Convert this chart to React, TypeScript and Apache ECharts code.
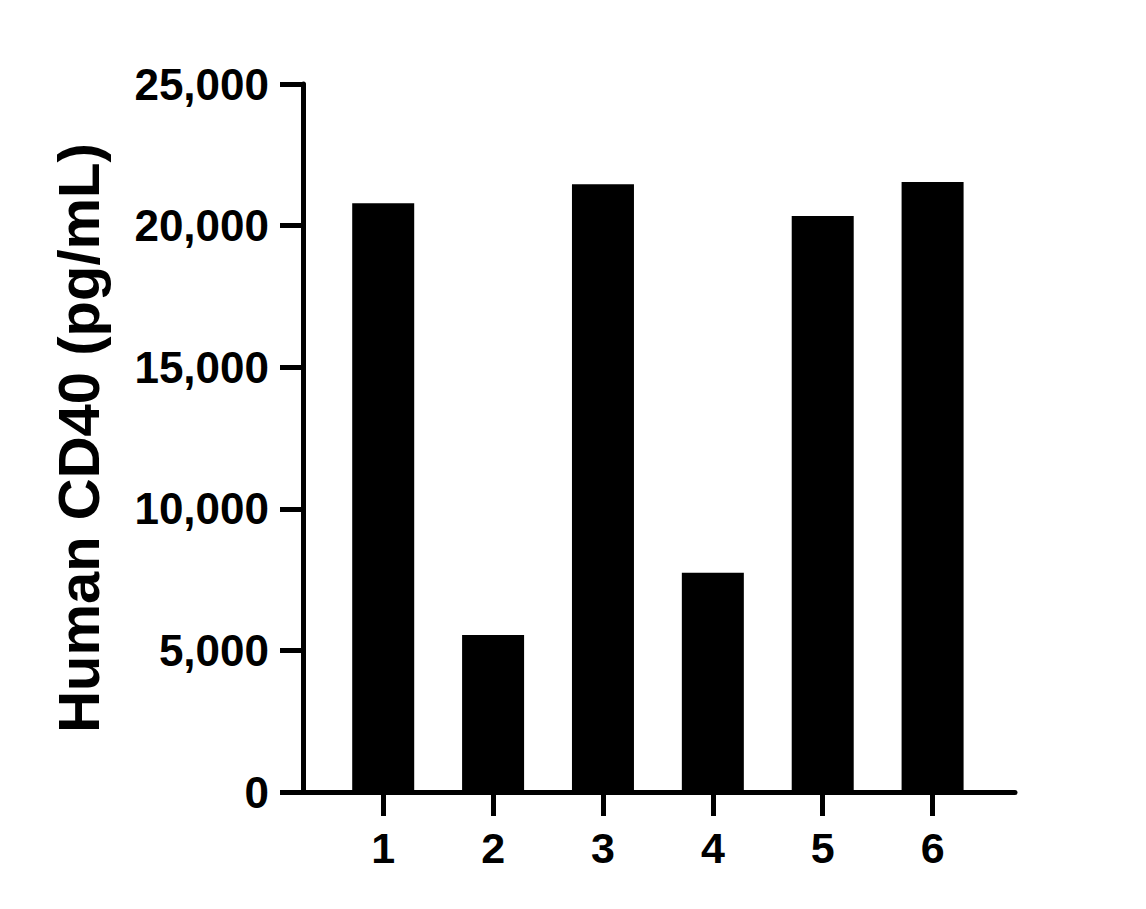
import React, { useEffect, useRef } from 'react';
import * as echarts from 'echarts';

// sample numbers on the x axis
const samples = [1, 2, 3, 4, 5, 6];
// Human CD40 concentration per sample (pg/mL)
const cd40Values = [20790, 5540, 21460, 7740, 20340, 21540];
const yTicks = [0, 5000, 10000, 15000, 20000, 25000];

const FONT = '"Liberation Sans", Arial, Helvetica, sans-serif';

const App: React.FC = () => {
  const chartRef = useRef<HTMLDivElement>(null);

  useEffect(() => {
    document.body.style.margin = '0';
    if (!chartRef.current) return;
    const chart = echarts.init(chartRef.current, undefined, { renderer: 'svg' });

    const axisLine = { show: true, lineStyle: { color: '#000', width: 5 } };
    const axisTick = { show: true, inside: false, length: 23, lineStyle: { color: '#000', width: 5 } };
    const labelStyle = { color: '#000', fontSize: 43, fontWeight: 'bold' as const, fontFamily: FONT };

    chart.setOption({
      animation: false,
      backgroundColor: '#fff',
      grid: { left: 303, right: 131, top: 84, bottom: 117, containLabel: false },
      xAxis: {
        type: 'value',
        min: 0.27,
        max: 6.75,
        splitLine: { show: false },
        axisLine,
        axisTick: { ...axisTick, length: 24, customValues: samples },
        axisLabel: {
          ...labelStyle,
          margin: 34,
          customValues: samples,
          formatter: (v: number) => String(v),
        },
      },
      yAxis: {
        type: 'value',
        min: yTicks[0],
        max: yTicks[yTicks.length - 1],
        interval: 5000,
        splitLine: { show: false },
        axisLine,
        axisTick,
        axisLabel: {
          ...labelStyle,
          fontSize: 44,
          margin: 34,
          formatter: (v: number) => v.toLocaleString('en-US'),
        },
        name: 'Human CD40 (pg/mL)',
        nameLocation: 'middle',
        nameRotate: 90,
        nameGap: 196,
        nameTextStyle: { color: '#000', fontSize: 58, fontWeight: 'bold', fontFamily: FONT },
      },
      series: [
        {
          type: 'bar',
          data: samples.map((s, i) => [s, cd40Values[i]]),
          barWidth: 62,
          itemStyle: { color: '#000' },
        },
      ],
    });

    return () => {
      chart.dispose();
    };
  }, []);

  return <div ref={chartRef} style={{ width: 1146, height: 909 }} />;
};

export default App;
